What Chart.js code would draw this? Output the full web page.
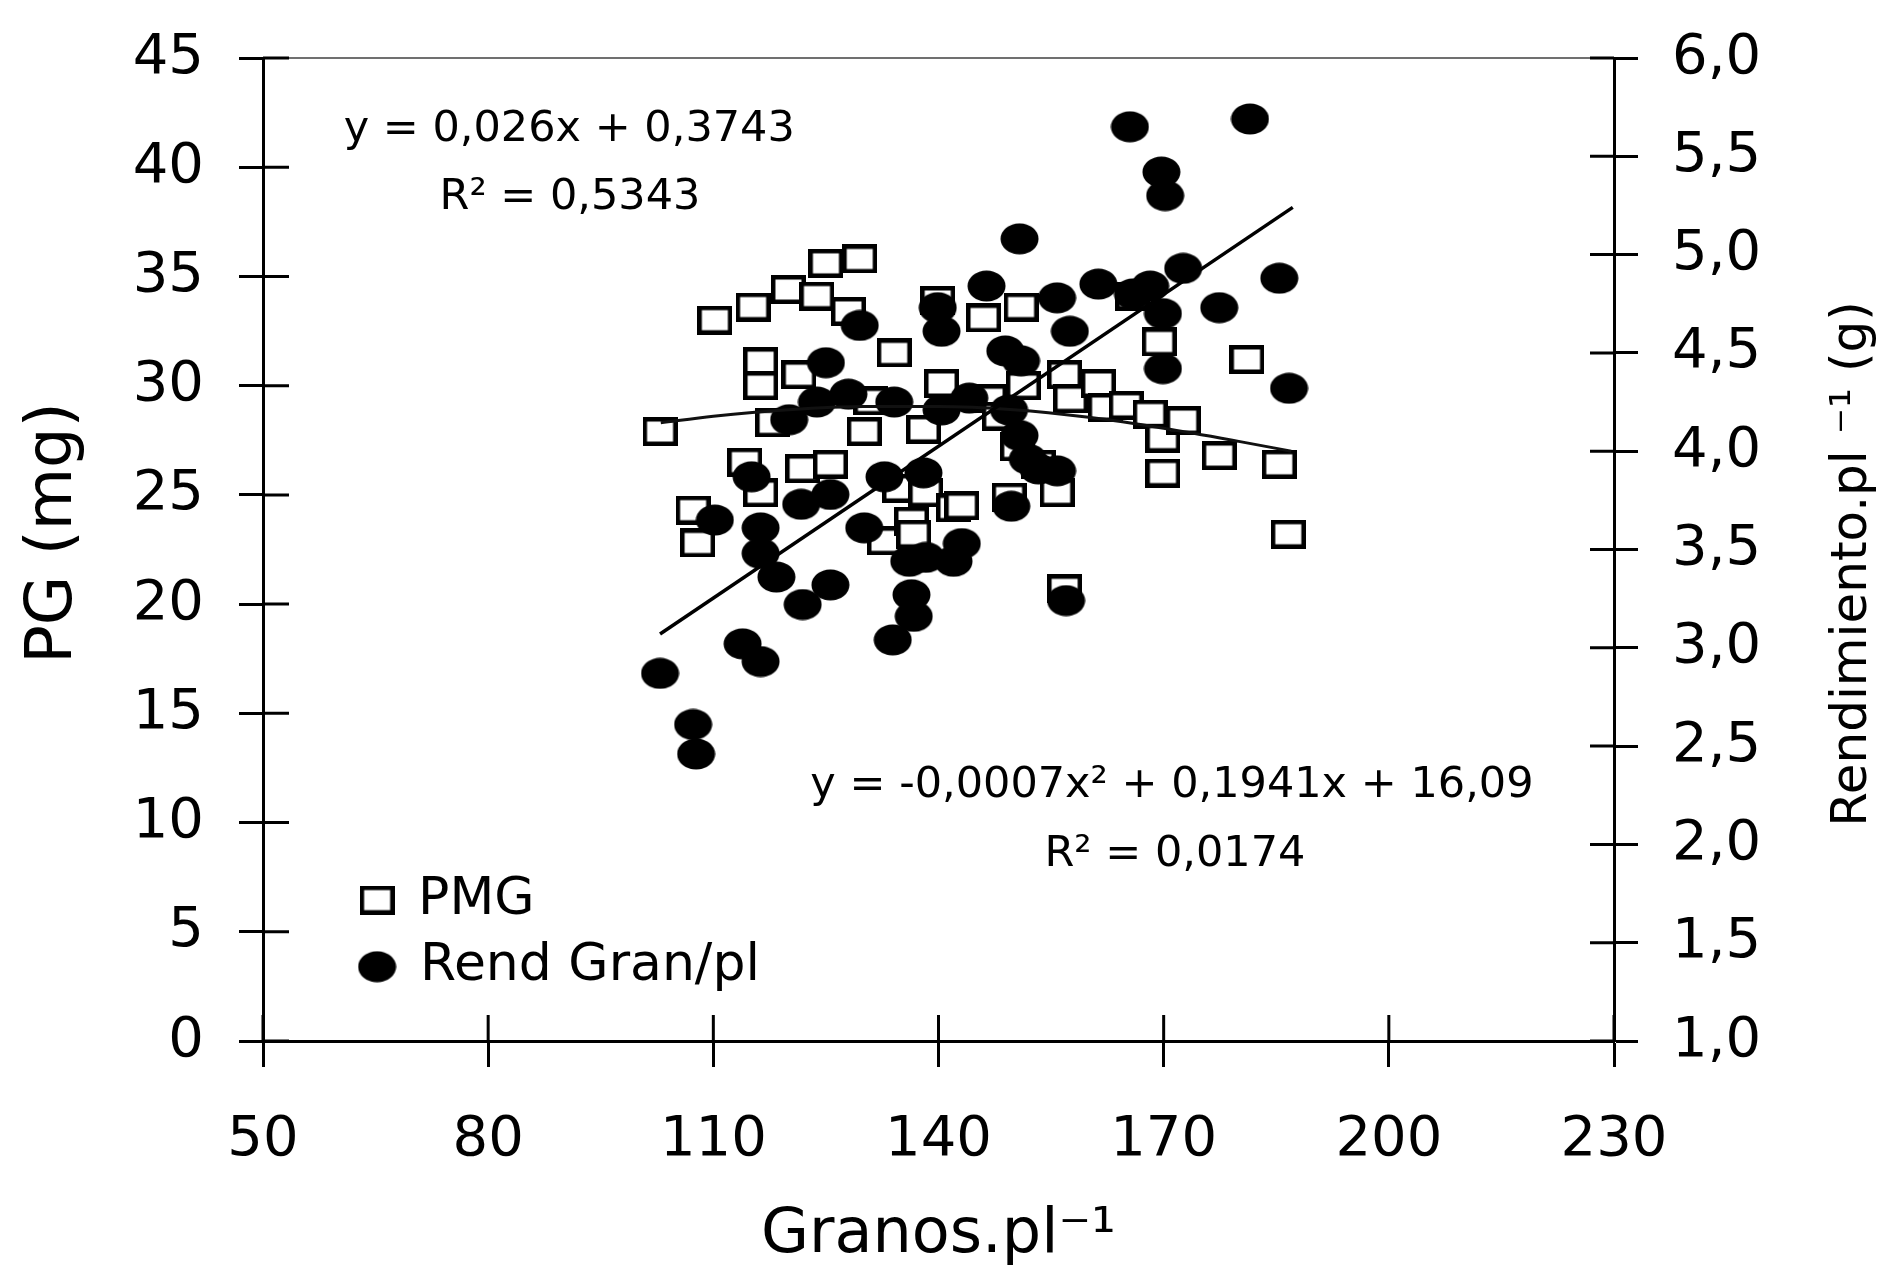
<!DOCTYPE html>
<html>
<head>
<meta charset="utf-8">
<script src="https://cdn.jsdelivr.net/npm/chart.js@4.4.1/dist/chart.umd.min.js"></script>
<style>
html,body{margin:0;padding:0;background:#fff;}
canvas{display:block;}
</style>
</head>
<body>
<canvas id="c" width="1893" height="1265"></canvas>
<script>
// ---------- data ----------
const xTickValues = [50, 80, 110, 140, 170, 200, 230];
const pgTickValues = [0, 5, 10, 15, 20, 25, 30, 35, 40, 45];
const rendTickValues = [1, 1.5, 2, 2.5, 3, 3.5, 4, 4.5, 5, 5.5, 6];
const rendTickLabels = ['1,0','1,5','2,0','2,5','3,0','3,5','4,0','4,5','5,0','5,5','6,0'];

// PMG (left axis, mg) – open squares
const pmgX = [102.9,107.3,107.9,110.2,114.2,115.3,116.3,116.3,116.3,117.9,
              120.0,121.4,121.9,123.8,125.0,125.6,128.0,129.5,130.1,131.0,
              132.8,134.1,134.8,136.4,136.7,138.0,138.3,139.9,140.4,142.0,
              143.1,146.0,146.8,148.1,149.4,150.5,151.0,151.3,153.3,155.8,
              156.8,156.8,157.6,161.3,162.2,165.0,165.9,168.2,169.4,169.9,
              169.9,172.6,177.4,181.1,185.4,186.6];
const pmgY = [27.9,24.3,22.8,33.0,26.5,33.6,31.1,30.0,25.1,28.3,
              34.4,30.5,26.2,34.1,35.6,26.4,33.4,35.8,27.9,29.3,
              22.9,31.5,25.3,23.8,23.2,28.0,25.1,33.9,30.1,24.4,
              24.5,33.1,29.4,28.6,24.9,27.2,33.6,30.0,26.4,25.1,
              20.7,30.5,29.4,30.1,29.0,29.1,34.1,28.7,32.0,27.6,
              26.0,28.4,26.8,31.2,26.4,23.2];

// Rend Gran/pl (right axis, g) – filled dots
const rendX = [102.9,107.3,107.7,110.2,113.9,115.1,116.3,116.3,116.3,118.4,
               120.1,121.7,121.9,123.8,125.0,125.6,125.6,128.0,129.5,130.1,
               132.8,134.1,133.9,136.1,136.4,136.7,138.0,138.3,139.9,140.4,
               140.4,142.0,143.1,144.1,146.4,148.9,149.4,149.7,150.8,151.0,
               150.8,151.9,153.3,155.8,155.8,157.5,157.0,161.3,165.5,165.9,
               168.2,169.7,170.2,169.9,169.9,172.6,177.4,181.5,185.4,186.7];
const rendY = [2.87,2.61,2.46,3.65,3.02,3.87,3.61,3.48,2.93,3.36,
               4.16,3.73,3.22,4.25,4.45,3.78,3.32,4.29,4.64,3.61,
               3.87,4.25,3.04,3.44,3.27,3.16,3.89,3.46,4.73,4.61,
               4.21,3.44,3.53,4.27,4.84,4.51,4.21,3.72,5.08,4.46,
               4.08,3.96,3.91,4.78,3.90,4.61,3.24,4.85,5.65,4.80,
               4.84,5.42,5.30,4.70,4.42,4.93,4.73,5.69,4.88,4.32];

// trend lines
const linTrendX = [102.9, 187.2];
const linTrendY = [3.07, 5.24];
const quadTrendX = [103, 110, 120, 130, 140, 150, 160, 170, 180, 187];
const quadTrendY = [28.3, 28.6, 28.9, 29.05, 29.05, 28.9, 28.55, 28.05, 27.45, 27.0];

// ---------- markers ----------
function makeSquare() {
  const c = document.createElement('canvas'); c.width = 35; c.height = 29;
  const g = c.getContext('2d');
  g.fillStyle = '#fff'; g.fillRect(0, 0, 35, 29);
  g.strokeStyle = '#000'; g.lineWidth = 4.5; g.strokeRect(2.25, 2.25, 30.5, 24.5);
  return c;
}
function makeDot() {
  const c = document.createElement('canvas'); c.width = 39; c.height = 32;
  const g = c.getContext('2d');
  g.fillStyle = '#000'; g.beginPath();
  g.ellipse(19.5, 16, 19, 15.5, 0, 0, Math.PI * 2); g.fill();
  return c;
}
const squareImg = makeSquare();
const dotImg = makeDot();

const pts = (xs, ys) => xs.map((x, i) => ({x: x, y: ys[i]}));
const FONT = "'DejaVu Sans', Verdana, sans-serif";

// ---------- decorations (inner ticks, top border, legend, equations, titles) ----------
const decor = {
  id: 'decor',
  afterDraw(chart) {
    const {ctx, chartArea: a, scales} = chart;
    const sx = scales.x, sy = scales.y, sy2 = scales.y2;
    ctx.save();
    // top border of plot area
    ctx.strokeStyle = '#707070'; ctx.lineWidth = 2;
    ctx.beginPath(); ctx.moveTo(a.left, a.top); ctx.lineTo(a.right, a.top); ctx.stroke();
    // inner halves of the cross ticks
    ctx.strokeStyle = '#000'; ctx.lineWidth = 3;
    ctx.beginPath();
    sx.ticks.forEach(t => { const p = sx.getPixelForValue(t.value); ctx.moveTo(p, a.bottom); ctx.lineTo(p, a.bottom - 26); });
    sy.ticks.forEach(t => { const p = sy.getPixelForValue(t.value); ctx.moveTo(a.left, p); ctx.lineTo(a.left + 26, p); });
    sy2.ticks.forEach(t => { const p = sy2.getPixelForValue(t.value); ctx.moveTo(a.right, p); ctx.lineTo(a.right - 24, p); });
    ctx.stroke();

    ctx.fillStyle = '#000';
    // legend (inside plot, lower left)
    const lx = sx.getPixelForValue(65.2);
    const ly1 = sy.getPixelForValue(6.45), ly2 = sy.getPixelForValue(3.4);
    ctx.drawImage(squareImg, lx - squareImg.width / 2, ly1 - squareImg.height / 2);
    ctx.drawImage(dotImg, lx - dotImg.width / 2, ly2 - dotImg.height / 2);
    ctx.font = '52px ' + FONT; ctx.textAlign = 'left'; ctx.textBaseline = 'middle';
    ctx.fillText('PMG', lx + 41, ly1);
    ctx.fillText('Rend Gran/pl', lx + 43, ly2);

    // equations
    ctx.font = '43px ' + FONT; ctx.textAlign = 'center';
    ctx.fillText('y = 0,026x + 0,3743', sx.getPixelForValue(90.8), sy.getPixelForValue(41.7));
    ctx.fillText('R² = 0,5343', sx.getPixelForValue(90.9), sy.getPixelForValue(38.6));
    ctx.fillText('y = -0,0007x² + 0,1941x + 16,09', sx.getPixelForValue(171.1), sy.getPixelForValue(11.7));
    ctx.fillText('R² = 0,0174', sx.getPixelForValue(171.5), sy.getPixelForValue(8.5));

    // axis titles
    ctx.font = '62px ' + FONT;
    ctx.fillText('Granos.pl⁻¹', (a.left + a.right) / 2, 1236);
    ctx.save();
    ctx.translate(54, 533); ctx.rotate(-Math.PI / 2);
    ctx.font = '64px ' + FONT;
    ctx.fillText('PG (mg)', 0, 0);
    ctx.restore();
    ctx.save();
    ctx.translate(1853, 564); ctx.rotate(-Math.PI / 2);
    ctx.font = '50px ' + FONT;
    ctx.fillText('Rendimiento.pl ⁻¹ (g)', 0, 0);
    ctx.restore();
    ctx.restore();
  }
};

const tickFont = {family: FONT, size: 56};
const axisBorder = {display: true, color: '#000', width: 3};

new Chart(document.getElementById('c'), {
  type: 'scatter',
  data: {
    datasets: [
      {label: 'PMG', data: pts(pmgX, pmgY), yAxisID: 'y', order: 3,
       pointStyle: squareImg, pointRadius: 15, pointHoverRadius: 15},
      {label: 'Rend Gran/pl', data: pts(rendX, rendY), yAxisID: 'y2', order: 2,
       pointStyle: dotImg, pointRadius: 15, pointHoverRadius: 15},
      {label: 'quad', data: pts(quadTrendX, quadTrendY), yAxisID: 'y', order: 1,
       showLine: true, pointRadius: 0, borderColor: '#111', borderWidth: 3,
       cubicInterpolationMode: 'monotone'},
      {label: 'lin', data: pts(linTrendX, linTrendY), yAxisID: 'y2', order: 0,
       showLine: true, pointRadius: 0, borderColor: '#000', borderWidth: 3.5}
    ]
  },
  options: {
    responsive: false,
    animation: false,
    events: [],
    layout: {padding: {top: 58, left: 0, right: 0, bottom: 0}},
    plugins: {legend: {display: false}, tooltip: {enabled: false}},
    scales: {
      x: {
        type: 'linear', position: 'bottom', min: 50, max: 230,
        afterBuildTicks: s => { s.ticks = xTickValues.map(v => ({value: v})); },
        afterFit: s => { s.height = 224; s.paddingLeft = 0; s.paddingRight = 0; },
        ticks: {font: tickFont, color: '#000', padding: 40, maxRotation: 0,
                callback: v => String(v)},
        grid: {drawOnChartArea: false, drawTicks: true, tickLength: 26, tickWidth: 3, tickColor: '#000'},
        border: axisBorder
      },
      y: {
        type: 'linear', position: 'left', min: 0, max: 45,
        afterBuildTicks: s => { s.ticks = pgTickValues.map(v => ({value: v})); },
        afterFit: s => { s.width = 263; s.paddingTop = 0; s.paddingBottom = 0; },
        ticks: {font: tickFont, color: '#000', padding: 35, callback: v => String(v)},
        grid: {drawOnChartArea: false, drawTicks: true, tickLength: 24, tickWidth: 3, tickColor: '#000'},
        border: axisBorder
      },
      y2: {
        type: 'linear', position: 'right', min: 1, max: 6,
        afterBuildTicks: s => { s.ticks = rendTickValues.map(v => ({value: v})); },
        afterFit: s => { s.width = 279; s.paddingTop = 0; s.paddingBottom = 0; },
        ticks: {font: tickFont, color: '#000', padding: 34,
                callback: v => rendTickLabels[rendTickValues.indexOf(v)]},
        grid: {drawOnChartArea: false, drawTicks: true, tickLength: 24, tickWidth: 3, tickColor: '#000'},
        border: axisBorder
      }
    }
  },
  plugins: [decor]
});
</script>
</body>
</html>
